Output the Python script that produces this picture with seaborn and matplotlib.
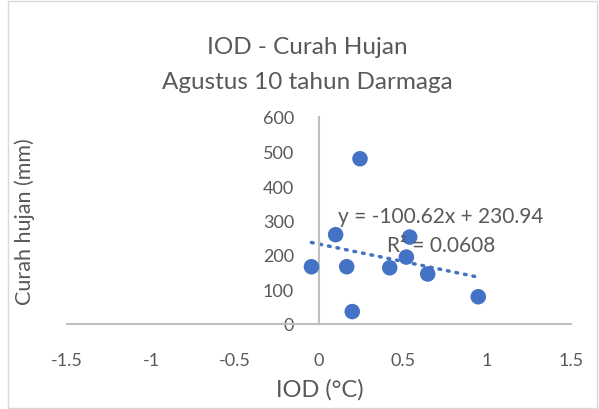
import matplotlib
matplotlib.use("Agg")
import matplotlib.pyplot as plt
import seaborn as sns
import pandas as pd
from matplotlib.patches import Rectangle

# IOD (°C) vs August rainfall (mm), Darmaga, 10 years
iod = [-0.045, 0.244, 0.099, 0.165, 0.198, 0.421, 0.54, 0.52, 0.647, 0.948]
hujan = [166, 479, 259, 166, 36, 163, 252, 194, 145, 79]
x_ticks = [-1.5, -1, -0.5, 0, 0.5, 1, 1.5]
y_ticks = [0, 100, 200, 300, 400, 500, 600]

df = pd.DataFrame({"IOD": iod, "Hujan": hujan})

sns.set_style("white")
plt.rcParams["font.family"] = ["Lato", "DejaVu Sans"]

blue = "#4472C4"
grey_txt = "#595959"
axis_c = "#BFBFBF"

fig = plt.figure(figsize=(5.99, 4.10), dpi=100)
ax = fig.add_axes([67/599, (410-325)/410, 504/599, 207/410])

sns.regplot(data=df, x="IOD", y="Hujan", ax=ax, scatter=False, ci=None,
            line_kws=dict(color=blue, lw=2.5, linestyle=(0, (0.5, 2.0)),
                          dash_capstyle="round"))
sns.scatterplot(data=df, x="IOD", y="Hujan", ax=ax, s=125, color=blue,
                edgecolor="none", zorder=3)

ax.set_xlim(-1.5, 1.5)
ax.set_ylim(0, 600)
ax.set_xticks(x_ticks)
ax.set_xticklabels([f"{t:g}" for t in x_ticks])
ax.set_yticks(y_ticks)

for s in ["top", "right"]:
    ax.spines[s].set_visible(False)
ax.spines["left"].set_position(("data", 0))
ax.spines["left"].set_color(axis_c)
ax.spines["bottom"].set_color(axis_c)
ax.spines["left"].set_linewidth(1.5)
ax.spines["bottom"].set_linewidth(1.5)
ax.tick_params(axis="x", length=0, pad=20, labelsize=13, labelcolor=grey_txt)
ax.tick_params(axis="y", length=0, pad=18, labelsize=13, labelcolor=grey_txt)
ax.set_xlabel("")
ax.set_ylabel("")
ax.patch.set_alpha(0)

fig.text(320/599, 1-390/410, "IOD (°C)", ha="center", va="center",
         fontsize=17, color=grey_txt)
fig.text(25/599, 1-222/410, "Curah hujan (mm)", ha="center", va="center",
         rotation=90, fontsize=15.5, color=grey_txt)
fig.text(307/599, 1-48/410, "IOD - Curah Hujan", ha="center", va="center",
         fontsize=17.5, color=grey_txt)
fig.text(307/599, 1-83/410, "Agustus 10 tahun Darmaga", ha="center", va="center",
         fontsize=17.5, color=grey_txt)

fig.text(441/599, 1-217/410, "y = -100.62x + 230.94", ha="center", va="center",
         fontsize=15, color=grey_txt)
fig.text(441/599, 1-246/410, "R² = 0.0608", ha="center", va="center",
         fontsize=15, color=grey_txt)

fig.patches.append(Rectangle((8/599, 1/410), 589/599, 407/410,
                             transform=fig.transFigure, fill=False,
                             edgecolor="#D9D9D9", lw=1))

fig.savefig("out.png", dpi=100)
